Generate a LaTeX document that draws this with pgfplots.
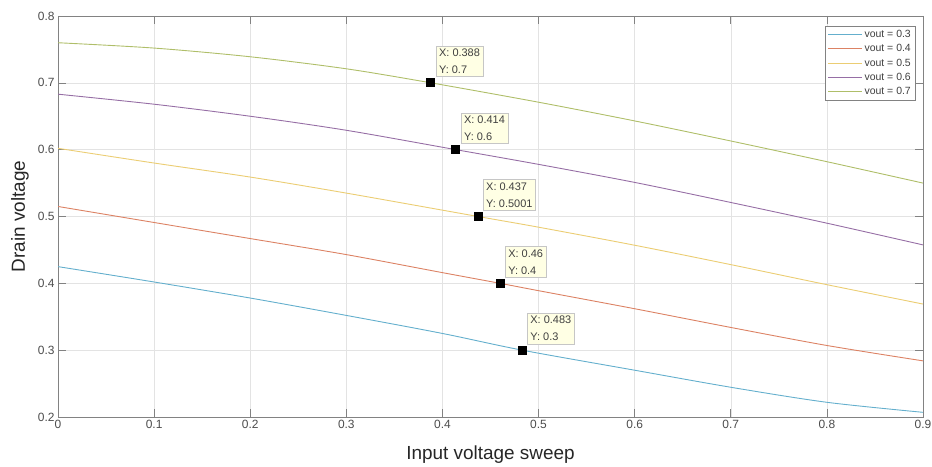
\documentclass[border=0pt]{standalone}
\usepackage{fontspec}
\setmainfont{Liberation Sans}
\usepackage{pgfplots}
\pgfplotsset{compat=1.18}
\definecolor{c1}{RGB}{100,175,205}
\definecolor{c2}{RGB}{220,130,100}
\definecolor{c3}{RGB}{235,205,115}
\definecolor{c4}{RGB}{150,110,165}
\definecolor{c5}{RGB}{175,190,105}
\definecolor{axgray}{RGB}{130,130,130}
\definecolor{tipfill}{RGB}{255,255,228}
\tikzset{tip/.style={draw=gray!45, fill=tipfill, anchor=south west, xshift=5bp, yshift=6bp,
  align=left, inner sep=3bp, font=\fontsize{11}{17}\selectfont, text=black!75}}
\begin{document}
\begin{tikzpicture}
\useasboundingbox (0,0) rectangle (932bp,467bp);
\begin{axis}[
  at={(58bp,50bp)}, anchor=south west,
  scale only axis, width=865bp, height=401bp,
  xmin=0, xmax=0.9, ymin=0.2, ymax=0.8,
  xtick={0,0.1,0.2,0.3,0.4,0.5,0.6,0.7,0.8,0.9},
  ytick={0.2,0.3,0.4,0.5,0.6,0.7,0.8},
  /pgf/number format/assume math mode=true,
  tick label style={font=\fontsize{12}{14}\selectfont, text=black!70},
  tick align=inside, major tick length=8bp,
  tick style={axgray, line width=0.6bp},
  axis line style={axgray, line width=0.8bp},
  grid=major, grid style={gray!22, line width=0.5bp},
  xlabel={Input voltage sweep}, ylabel={Drain voltage},
  xlabel style={at={(axis description cs:0.5,-0.095)}, anchor=center,
    font=\fontsize{19}{22}\selectfont, text=black!85},
  ylabel style={at={(axis description cs:-0.044,0.5)}, anchor=center,
    font=\fontsize{19}{22}\selectfont, text=black!85},
  legend style={at={(1,1)}, anchor=north east, xshift=-8bp, yshift=-10bp,
    draw=axgray, fill=white, font=\fontsize{10.5}{12}\selectfont, text=black!75,
    inner sep=2bp, row sep=1.5bp},
  legend cell align=left,
  legend image code/.code={\draw[#1] (0bp,0bp) -- (34bp,0bp);},
  every axis plot/.append style={line width=0.9bp},
]
\addplot[c1, smooth] coordinates {(0,0.425) (0.1,0.402) (0.2,0.378) (0.3,0.352) (0.4,0.325) (0.483,0.300) (0.6,0.270) (0.7,0.2445) (0.8,0.222) (0.9,0.207)};
\addplot[c2, smooth] coordinates {(0,0.515) (0.1,0.491) (0.2,0.467) (0.3,0.443) (0.4,0.416) (0.46,0.400) (0.5,0.389) (0.6,0.362) (0.7,0.334) (0.8,0.307) (0.9,0.284)};
\addplot[c3, smooth] coordinates {(0,0.602) (0.1,0.580) (0.2,0.559) (0.3,0.535) (0.437,0.500) (0.5,0.484) (0.6,0.457) (0.7,0.428) (0.8,0.398) (0.9,0.369)};
\addplot[c4, smooth] coordinates {(0,0.683) (0.1,0.668) (0.2,0.650) (0.3,0.629) (0.414,0.600) (0.5,0.578) (0.6,0.551) (0.7,0.521) (0.8,0.490) (0.9,0.4575)};
\addplot[c5, smooth] coordinates {(0,0.760) (0.1,0.752) (0.2,0.739) (0.3,0.721) (0.388,0.700) (0.5,0.671) (0.6,0.643) (0.7,0.613) (0.8,0.582) (0.9,0.550)};
\legend{vout = 0.3, vout = 0.4, vout = 0.5, vout = 0.6, vout = 0.7}
\addplot[only marks, mark=square*, mark size=4bp, black, forget plot] coordinates {(0.388,0.7) (0.414,0.6) (0.437,0.5001) (0.46,0.4) (0.483,0.3)};
\node[tip] at (axis cs:0.388,0.7) {X: 0.388\\Y: 0.7};
\node[tip] at (axis cs:0.414,0.6) {X: 0.414\\Y: 0.6};
\node[tip] at (axis cs:0.437,0.5001) {X: 0.437\\Y: 0.5001};
\node[tip] at (axis cs:0.46,0.4) {X: 0.46\\Y: 0.4};
\node[tip] at (axis cs:0.483,0.3) {X: 0.483\\Y: 0.3};
\end{axis}
\end{tikzpicture}
\end{document}
